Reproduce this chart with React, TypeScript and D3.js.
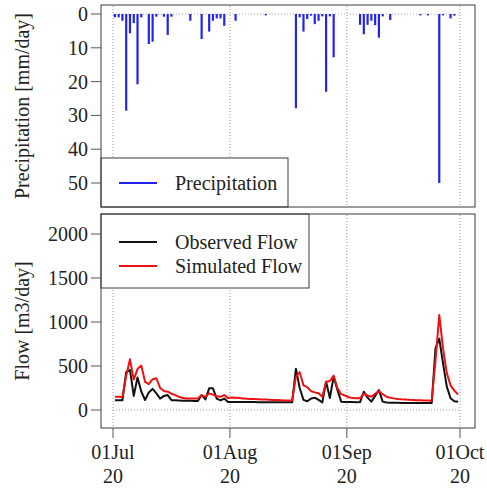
import React from "react";
import * as d3 from "d3";

// ---- data (day index 0 = 01 Jul) ----
const precipDays = [0, 1, 2, 3, 4, 5, 6, 7, 9, 10, 11, 13, 14, 15, 20, 23, 25, 26, 27, 28, 29, 32, 40,
  48, 49, 50, 51, 52, 53, 54, 55, 56, 57, 58, 65, 66, 67, 68, 69, 70, 71, 73, 81, 83, 86, 87, 89, 90];
const precipValues = [1.0, 1.0, 2.0, 28.6, 5.7, 2.7, 20.8, 1.0, 8.9, 8.2, 0.8, 0.8, 6.2, 0.8, 2.0, 7.4, 5.2, 2.0, 1.3, 1.3, 3.5, 2.0, 0.4,
  27.9, 1.0, 5.2, 1.5, 0.5, 3.0, 2.0, 0.7, 23.0, 0.7, 12.8, 3.2, 6.0, 3.2, 2.0, 3.3, 7.0, 0.7, 1.8, 0.4, 0.4, 50.0, 0.4, 1.3, 0.5];

const observedFlow = [
  112, 112, 112, 430, 455, 160, 370, 210, 114, 200,
  240, 190, 130, 160, 170, 112, 110, 108, 106, 105,
  104, 103, 102, 170, 120, 246, 246, 130, 110, 130,
  92, 92, 92, 91, 91, 90, 90, 90, 89, 89,
  88, 88, 88, 87, 87, 87, 87, 87, 470, 250,
  115, 100, 130, 140, 114, 87, 322, 136, 379, 227,
  95, 92, 90, 90, 88, 90, 208, 140, 95, 160,
  227, 95, 85, 83, 82, 81, 80, 80, 80, 80,
  80, 80, 80, 80, 80, 700, 810, 530, 265, 133,
  100, 95,
];
const simulatedFlow = [
  150, 150, 148, 390, 576, 345, 465, 505, 320, 295,
  350, 360, 250, 215, 208, 185, 170, 150, 135, 132,
  132, 132, 132, 170, 150, 189, 175, 155, 150, 170,
  135, 142, 140, 136, 132, 128, 126, 124, 122, 120,
  118, 116, 115, 113, 111, 109, 107, 110, 380, 430,
  280, 260, 215, 200, 190, 150, 322, 330, 390, 250,
  180, 165, 145, 135, 133, 133, 185, 165, 150, 185,
  215, 180, 150, 140, 132, 126, 122, 119, 116, 114,
  112, 110, 108, 107, 106, 560, 1080, 700, 420, 280,
  220, 175,
];

const monthTickDays = [0, 31, 62, 92];
const monthTickLabels = ["01Jul", "01Aug", "01Sep", "01Oct"];
const yearLabel = "20";
const precipTicks = [0, 10, 20, 30, 40, 50];
const flowTicks = [0, 500, 1000, 1500, 2000];

const FONT = "'Liberation Serif', 'DejaVu Serif', serif";

export default function App() {
  const W = 487, H = 490;
  const left = 101, right = 475;
  const top1 = 5, bot1 = 207;
  const top2 = 214, bot2 = 428;

  const x = d3.scaleLinear().domain([0, 92]).range([113, 460]);
  const yP = d3.scaleLinear().domain([0, 50]).range([14, 183]);
  const yF = d3.scaleLinear().domain([0, 2000]).range([410, 234]);

  const line = d3.line<number>().x((_, i) => x(i + 0.5)).y((v) => yF(v));

  const frame = "#3a3a3a";
  const tickColor = "#555";
  const ts = { fontFamily: FONT, fontSize: 20, fill: "#222" } as React.CSSProperties;

  return (
    <svg width={W} height={H} style={{ position: "absolute", left: 0, top: 0, background: "#fff" }}>
      <rect x={0} y={0} width={W} height={H} fill="#fff" />
      {/* ---------- top panel ---------- */}
      {monthTickDays.map((d) => (
        <line key={"vg1" + d} x1={x(d)} x2={x(d)} y1={top1 + 1} y2={bot1} stroke="#999" strokeDasharray="1,2" />
      ))}
      <line x1={x(0)} x2={x(92)} y1={yP(0)} y2={yP(0)} stroke="#a8a8d8" strokeDasharray="1,2" />
      {precipDays.map((d, i) => (
        <line key={"p" + i} x1={x(d + 0.5)} x2={x(d + 0.5)} y1={yP(0)} y2={yP(precipValues[i])} stroke="#2323ee" strokeWidth={2.2} />
      ))}
      {/* legend top */}
      <rect x={left} y={158} width={187} height={bot1 - 158} fill="#fff" stroke={frame} />
      <line x1={119} x2={157} y1={183} y2={183} stroke="#2323ee" strokeWidth={2} />
      <text x={175} y={190} style={ts}>Precipitation</text>
      <rect x={left} y={top1} width={right - left} height={bot1 - top1} fill="none" stroke={frame} />
      {precipTicks.map((t) => (
        <g key={"pt" + t}>
          <line x1={91} x2={left} y1={yP(t)} y2={yP(t)} stroke={tickColor} />
          <text x={88} y={yP(t) + 7} textAnchor="end" style={ts}>{t}</text>
        </g>
      ))}
      <text transform={`translate(29,${(top1 + bot1) / 2}) rotate(-90)`} textAnchor="middle" style={ts}>
        Precipitation [mm/day]
      </text>

      {/* ---------- bottom panel ---------- */}
      {monthTickDays.map((d) => (
        <line key={"vg2" + d} x1={x(d)} x2={x(d)} y1={top2 + 1} y2={bot2} stroke="#999" strokeDasharray="1,2" />
      ))}
      <line x1={x(0)} x2={x(92)} y1={yF(0)} y2={yF(0)} stroke="#999" strokeDasharray="1,2" />
      <path d={line(observedFlow) || ""} fill="none" stroke="#111" strokeWidth={2} strokeLinejoin="round" />
      <path d={line(simulatedFlow) || ""} fill="none" stroke="#ee1111" strokeWidth={2} strokeLinejoin="round" />
      {/* legend bottom */}
      <rect x={left} y={top2} width={208} height={74} fill="#fff" stroke={frame} />
      <line x1={119} x2={157} y1={242} y2={242} stroke="#111" strokeWidth={2} />
      <text x={175} y={249} style={ts}>Observed Flow</text>
      <line x1={119} x2={157} y1={266} y2={266} stroke="#ee1111" strokeWidth={2} />
      <text x={175} y={273} style={ts}>Simulated Flow</text>
      <rect x={left} y={top2} width={right - left} height={bot2 - top2} fill="none" stroke={frame} />
      {flowTicks.map((t) => (
        <g key={"ft" + t}>
          <line x1={91} x2={left} y1={yF(t)} y2={yF(t)} stroke={tickColor} />
          <text x={88} y={yF(t) + 7} textAnchor="end" style={ts}>{t}</text>
        </g>
      ))}
      <text transform={`translate(29,${(top2 + bot2) / 2}) rotate(-90)`} textAnchor="middle" style={ts}>
        Flow [m3/day]
      </text>

      {/* x axis */}
      {monthTickDays.map((d, i) => (
        <g key={"xt" + d}>
          <line x1={x(d)} x2={x(d)} y1={bot2} y2={bot2 + 10} stroke={tickColor} />
          <text x={x(d)} y={459} textAnchor="middle" style={ts}>{monthTickLabels[i]}</text>
          <text x={x(d)} y={483} textAnchor="middle" style={ts}>{yearLabel}</text>
        </g>
      ))}
    </svg>
  );
}
